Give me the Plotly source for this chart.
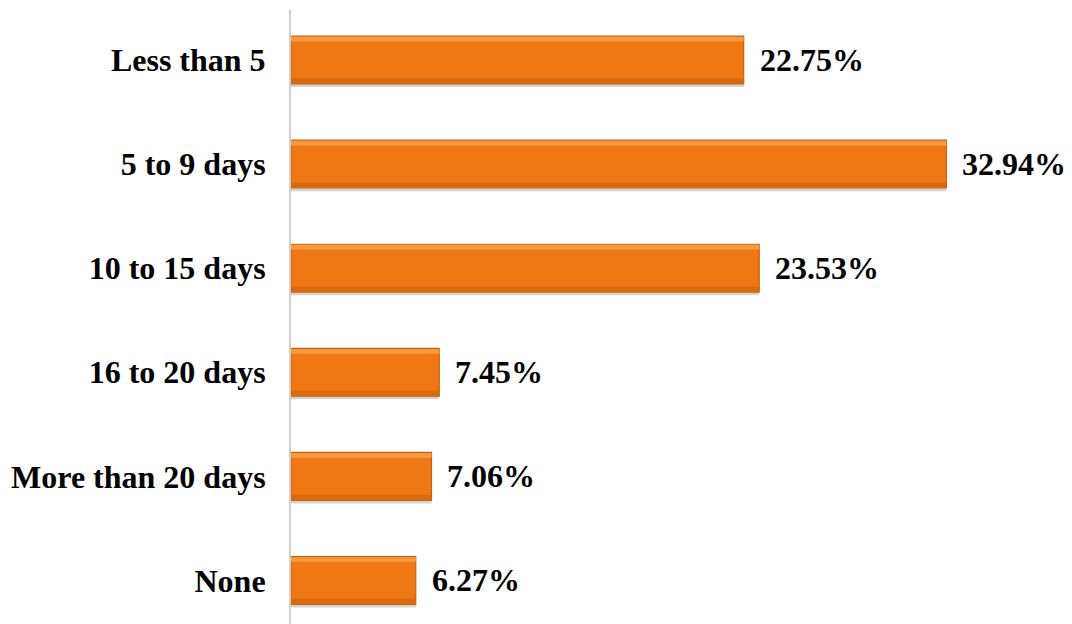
import plotly.graph_objects as go

categories = ["Less than 5", "5 to 9 days", "10 to 15 days", "16 to 20 days", "More than 20 days", "None"]
values = [22.75, 32.94, 23.53, 7.45, 7.06, 6.27]
labels = ["22.75%", "32.94%", "23.53%", "7.45%", "7.06%", "6.27%"]

font_fam = "Liberation Serif, Times New Roman, serif"

fig = go.Figure()
# shadow
fig.add_trace(go.Bar(
    y=categories, x=values, orientation="h", width=0.46,
    marker=dict(color="rgba(110,110,110,0.30)", line=dict(width=0)),
    offset=-0.20, hoverinfo="skip", showlegend=False,
))
# main bar
fig.add_trace(go.Bar(
    y=categories, x=values, orientation="h", width=0.46,
    marker=dict(color="#F07814", line=dict(color="#C9620E", width=1.2)),
    showlegend=False,
))
# top highlight (bevel)
fig.add_trace(go.Bar(
    y=categories, x=values, orientation="h", width=0.045, offset=-0.224,
    marker=dict(color="#F59A42", line=dict(width=0)),
    hoverinfo="skip", showlegend=False,
))
# bottom shade (bevel)
fig.add_trace(go.Bar(
    y=categories, x=values, orientation="h", width=0.045, offset=0.176,
    marker=dict(color="#D8690F", line=dict(width=0)),
    hoverinfo="skip", showlegend=False,
))

for c, v, t in zip(categories, values, labels):
    fig.add_annotation(x=v, y=c, text="<b>%s</b>" % t, showarrow=False,
                       xanchor="left", xshift=14,
                       font=dict(family=font_fam, size=32, color="black"))

fig.update_layout(
    width=1064, height=616,
    margin=dict(l=283, r=0, t=2, b=0),
    plot_bgcolor="white", paper_bgcolor="white",
    barmode="overlay",
    xaxis=dict(range=[0, 39.25], showgrid=False, zeroline=False, showticklabels=False, showline=False),
    yaxis=dict(type="category", range=[5.418, -0.48], showgrid=False, zeroline=False,
               showline=True, linecolor="#D0D0D0", linewidth=2, ticks="",
               ticklabelstandoff=17, automargin=False,
               tickfont=dict(family=font_fam, size=32, color="black"),
               tickvals=categories, ticktext=["<b>%s</b>" % c for c in categories]),
)
fig.write_html("out.html")
